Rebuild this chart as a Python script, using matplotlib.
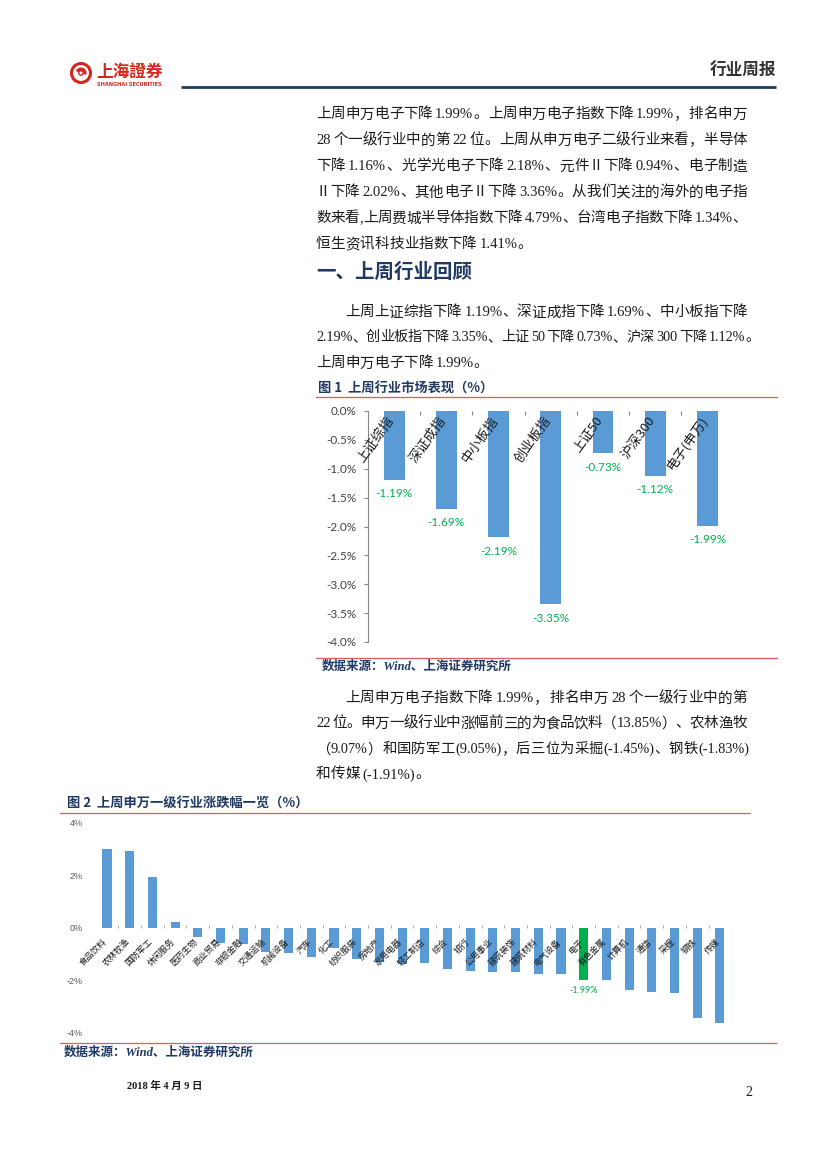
import matplotlib
matplotlib.use('Agg')
import matplotlib.pyplot as plt
from matplotlib.patches import Circle, Wedge

plt.rcParams['font.family'] = ['Noto Sans CJK SC', 'DejaVu Sans']
plt.rcParams['axes.unicode_minus'] = False

# ---------------- data ----------------
cats1 = ['上证综指', '深证成指', '中小板指', '创业板指', '上证50', '沪深300', '电子(申万)']
vals1 = [-1.19, -1.69, -2.19, -3.35, -0.73, -1.12, -1.99]
labels1 = ['-1.19%', '-1.69%', '-2.19%', '-3.35%', '-0.73%', '-1.12%', '-1.99%']
yticks1 = [0.0, -0.5, -1.0, -1.5, -2.0, -2.5, -3.0, -3.5, -4.0]
ytlabels1 = ['0.0%', '-0.5%', '-1.0%', '-1.5%', '-2.0%', '-2.5%', '-3.0%', '-3.5%', '-4.0%']

cats2 = ['食品饮料', '农林牧渔', '国防军工', '休闲服务', '医药生物', '商业贸易', '非银金融',
         '交通运输', '机械设备', '汽车', '化工', '纺织服装', '房地产', '家用电器', '轻工制造',
         '综合', '银行', '公用事业', '建筑装饰', '建筑材料', '电气设备', '电子', '有色金属',
         '计算机', '通信', '采掘', '钢铁', '传媒']
vals2 = [3.00, 2.93, 1.93, 0.22, -0.37, -0.60, -0.62, -0.94, -0.98, -1.10, -0.79, -1.19,
         -1.30, -1.39, -1.36, -1.58, -1.64, -1.68, -1.68, -1.77, -1.77, -1.99, -1.98,
         -2.36, -2.45, -2.49, -3.43, -3.62]
highlight2 = '电子'
highlight_label2 = '-1.99%'
yticks2 = [4, 2, 0, -2, -4]
ytlabels2 = ['4%', '2%', '0%', '-2%', '-4%']

para1 = ['上周申万电子下降 1.99%。上周申万电子指数下降 1.99%，排名申万',
         '28 个一级行业中的第 22 位。上周从申万电子二级行业来看，半导体',
         '下降 1.16%、光学光电子下降 2.18%、元件Ⅱ下降 0.94%、电子制造',
         'Ⅱ下降 2.02%、其他电子Ⅱ下降 3.36%。从我们关注的海外的电子指',
         '数来看,上周费城半导体指数下降 4.79%、台湾电子指数下降 1.34%、',
         '恒生资讯科技业指数下降 1.41%。']
heading = '一、上周行业回顾'
para2 = ['上周上证综指下降 1.19%、深证成指下降 1.69%、中小板指下降',
         '2.19%、创业板指下降 3.35%、上证 50 下降 0.73%、沪深 300 下降 1.12%。',
         '上周申万电子下降 1.99%。']
para3 = ['上周申万电子指数下降 1.99%，排名申万 28 个一级行业中的第',
         '22 位。申万一级行业中涨幅前三的为食品饮料（13.85%）、农林渔牧',
         '（9.07%）和国防军工(9.05%)，后三位为采掘(-1.45%)、钢铁(-1.83%)',
         '和传媒 (-1.91%)。']
title1 = '图 1  上周行业市场表现（%）'
title2 = '图 2  上周申万一级行业涨跌幅一览（%）'
source = '数据来源：Wind、上海证券研究所'

# ---------------- page ----------------
W, H = 827, 1169
fig = plt.figure(figsize=(W / 100, H / 100), dpi=100)
fig.patch.set_facecolor('white')
renderer = fig.canvas.get_renderer()

bg = fig.add_axes([0, 0, 1, 1])
bg.set_xlim(0, W)
bg.set_ylim(H, 0)
bg.axis('off')

BODY = ['Liberation Serif', 'Noto Sans CJK SC']
NAVY = '#1F3864'
RED = '#E05A5A'


def is_wide(ch):
    return ord(ch) > 0x2000


def tokens(s):
    toks, buf = [], ''
    for ch in s:
        if is_wide(ch) or ch == ' ':
            if buf:
                toks.append(buf)
                buf = ''
            toks.append(ch)
        else:
            buf += ch
    if buf:
        toks.append(buf)
    return toks


def tok_width(tok, size, family, weight):
    if tok == ' ':
        return size * 100 / 72 * 0.18
    t = bg.text(0, 0, tok, fontsize=size, family=family, weight=weight)
    w = t.get_window_extent(renderer).width
    t.remove()
    return w


def line(s, x0, yc, x1=None, size=10.5, family=BODY, color='#1a1a1a', weight='normal', style='normal'):
    toks = tokens(s)
    ws = [tok_width(t, size, family, weight) for t in toks]
    gap = 0.0
    if x1 is not None and len(toks) > 1:
        gap = (x1 - x0 - sum(ws)) / (len(toks) - 1)
    x = x0
    base = yc + 0.37 * size * 100 / 72
    for t, w in zip(toks, ws):
        if t != ' ':
            bg.text(x, base, t, fontsize=size, family=family, color=color,
                    weight=weight, style=style, ha='left', va='baseline')
        x += w + gap


# header / logo
bg.add_patch(Circle((81, 73), 9.5, fill=False, ec='#D7261E', lw=2.2))
bg.add_patch(Wedge((81, 73), 5.5, 200, 20, fc='#D7261E', ec='none'))
bg.add_patch(Circle((81, 73), 2.2, fc='white', ec='#D7261E', lw=1.0))
bg.text(96, 72, '上海證券', fontsize=12, weight='bold', color='#D7261E',
        family=['Noto Sans CJK TC', 'DejaVu Sans'], ha='left', va='center')
bg.text(97, 84, 'SHANGHAI SECURITIES', fontsize=3.6, weight='bold', color='#D7261E',
        family='DejaVu Sans', ha='left', va='center')
bg.text(776, 71, '行业周报', fontsize=12, weight='bold', color='#333333', ha='right', va='center')
bg.plot([181, 776], [87, 87], color='#1F3A5F', lw=2.0, solid_capstyle='butt')

# paragraph 1
ys1 = [113, 139, 165, 191, 217, 243]
for i, (s, y) in enumerate(zip(para1, ys1)):
    line(s, 316, y, x1=747 if i < len(para1) - 1 else None)

# heading
bg.text(316, 272, heading, fontsize=14, weight='bold', color=NAVY, ha='left', va='center')

# paragraph 2
ys2 = [311, 336, 362]
line(para2[0], 345, ys2[0], x1=747)
line(para2[1], 316, ys2[1], x1=759, size=10.2)
line(para2[2], 316, ys2[2])

# figure 1 title and rules
bg.text(318, 389, title1, fontsize=9.5, weight='bold', color=NAVY, ha='left', va='center')
bg.plot([316, 777], [397, 397], color=RED, lw=0.9)
bg.plot([316, 777], [658, 658], color=RED, lw=0.9)
bg.text(322, 667, source, fontsize=9, weight='bold', style='italic', color=NAVY,
        family=BODY, ha='left', va='center')

# paragraph 3
ys3 = [697, 722, 748, 773]
line(para3[0], 345, ys3[0], x1=747)
line(para3[1], 316, ys3[1], x1=747)
line(para3[2], 316, ys3[2], x1=749, size=10.3)
line(para3[3], 316, ys3[3])

# figure 2 title and rules
bg.text(67, 804, title2, fontsize=9.5, weight='bold', color=NAVY, ha='left', va='center')
bg.plot([60, 750], [813, 813], color=RED, lw=0.9)
bg.plot([60, 776], [1043, 1043], color=RED, lw=0.9)
bg.text(64, 1053, source, fontsize=9, weight='bold', style='italic', color=NAVY,
        family=BODY, ha='left', va='center')

# footer
bg.text(127, 1086, '2018 年 4 月 9 日', fontsize=7.5, weight='bold', family=BODY,
        color='#1a1a1a', ha='left', va='center')
bg.text(745, 1093, '2', fontsize=10, family='Liberation Serif', color='#1a1a1a',
        ha='left', va='center')

# ---------------- figure 1 chart ----------------
BLUE = '#5B9BD5'
GREEN = '#00B050'
ax1 = fig.add_axes([368 / W, 1 - 642 / H, (733.5 - 368) / W, (642 - 411) / H])
x1 = list(range(len(cats1)))
ax1.bar(x1, vals1, width=0.4, color=BLUE, zorder=2)
ax1.set_xlim(-0.5, len(cats1) - 0.5)
ax1.set_ylim(-4, 0)
for sp in ['top', 'right', 'bottom']:
    ax1.spines[sp].set_visible(False)
ax1.spines['left'].set_color('#868686')
ax1.spines['left'].set_linewidth(0.8)
ax1.set_yticks(yticks1)
ax1.set_yticklabels(ytlabels1, fontsize=8.5, color='#404040', family='Lato')
ax1.tick_params(axis='y', length=3, width=0.8, color='#868686', pad=5)
ax1.set_xticks([])
ax1.patch.set_alpha(0)
ax1.vlines([i + 0.5 for i in range(len(cats1) - 1)], -0.07, 0, color='#868686', lw=0.8, zorder=1)
for i, (c, v, lab) in enumerate(zip(cats1, vals1, labels1)):
    ax1.annotate(c, xy=(i, 0), xytext=(-2, -5), textcoords='offset points',
                 rotation=55, rotation_mode='anchor', ha='right', va='center',
                 fontsize=9.5, color='#1a1a1a', zorder=5, annotation_clip=False)
    ax1.annotate(lab, xy=(i, v), xytext=(0, -10), textcoords='offset points',
                 ha='center', va='center', fontsize=8.5, color=GREEN, family='Lato')

# ---------------- figure 2 chart ----------------
ax2 = fig.add_axes([95.65 / W, 1 - 1032.5 / H, 635.6 / W, 209.5 / H])
x2 = list(range(len(cats2)))
colors2 = [GREEN if c == highlight2 else BLUE for c in cats2]
ax2.bar(x2, vals2, width=0.4, color=colors2, zorder=2)
ax2.set_xlim(-0.5, len(cats2) - 0.5)
ax2.set_ylim(-4, 4)
for sp in ax2.spines.values():
    sp.set_visible(False)
ax2.set_yticks(yticks2)
ax2.set_yticklabels(ytlabels2, fontsize=6.5, color='#595959', family='Liberation Sans')
ax2.tick_params(axis='y', length=0, pad=9)
ax2.set_xticks([])
ax2.patch.set_alpha(0)
ax2.vlines([i + 0.5 for i in range(len(cats2) - 1)], 0, 0.12, color='#A6A6A6', lw=0.7, zorder=1)
for i, c in enumerate(cats2):
    ax2.annotate(c, xy=(i, 0), xytext=(-1, -9), textcoords='offset points',
                 rotation=45, rotation_mode='anchor', ha='right', va='center',
                 fontsize=6.2, color='#1a1a1a', zorder=5, annotation_clip=False)
hi = cats2.index(highlight2)
ax2.annotate(highlight_label2, xy=(hi, vals2[hi]), xytext=(0, -8), textcoords='offset points',
             ha='center', va='center', fontsize=6.5, color=GREEN, family='Lato')

fig.savefig('out.png', dpi=100, facecolor='white')
